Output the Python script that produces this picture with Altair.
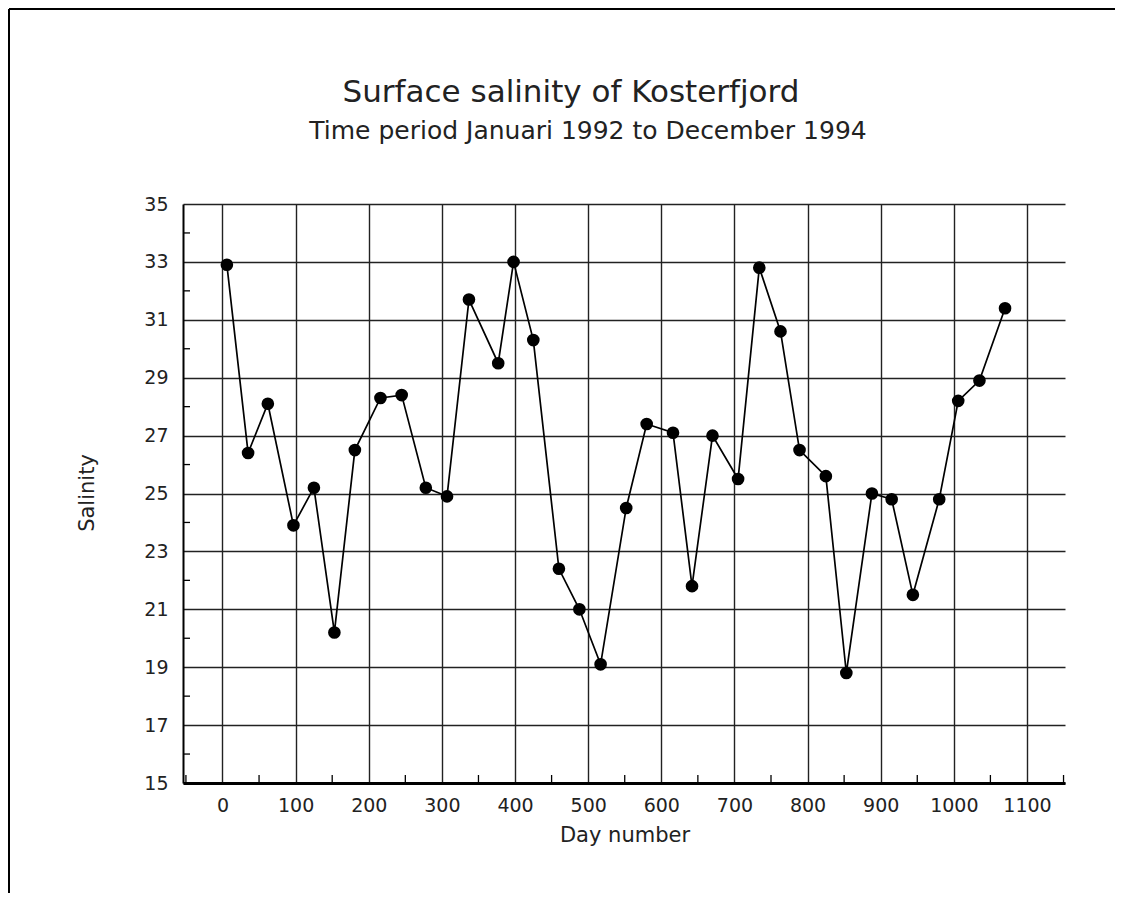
import altair as alt
import pandas as pd

# Data
days = [6, 35, 62, 97, 125, 153, 181, 216, 245, 278, 307, 337, 377, 398, 425,
        460, 488, 517, 552, 580, 616, 642, 670, 705, 734, 763, 789, 825, 853,
        888, 915, 944, 980, 1006, 1035, 1070]
salinity = [32.9, 26.4, 28.1, 23.9, 25.2, 20.2, 26.5, 28.3, 28.4, 25.2, 24.9,
            31.7, 29.5, 33.0, 30.3, 22.4, 21.0, 19.1, 24.5, 27.4, 27.1, 21.8,
            27.0, 25.5, 32.8, 30.6, 26.5, 25.6, 18.8, 25.0, 24.8, 21.5, 24.8,
            28.2, 28.9, 31.4]
x_major = [0, 100, 200, 300, 400, 500, 600, 700, 800, 900, 1000, 1100]
x_minor = [-50, 50, 150, 250, 350, 450, 550, 650, 750, 850, 950, 1050, 1150]
y_major = [15, 17, 19, 21, 23, 25, 27, 29, 31, 33, 35]
y_minor = [16, 18, 20, 22, 24, 26, 28, 30, 32, 34]

title = "Surface salinity of Kosterfjord"
subtitle = "Time period Januari 1992 to December 1994"
x_title = "Day number"
y_title = "Salinity"

FONT = "DejaVu Sans"
INK = "#000000"
TXT = "#222222"
GRID = "#222222"

W, H = 882, 579
xs = alt.Scale(domain=[-54, 1152], nice=False, zero=False)
ys = alt.Scale(domain=[15, 35], nice=False, zero=False)

df = pd.DataFrame({"day": days, "sal": salinity})

x_enc = alt.X("day:Q", scale=xs,
              axis=alt.Axis(values=x_major, grid=True, gridColor=GRID, gridWidth=1.4,
                            gridOpacity=1, ticks=False, domain=True, domainColor=INK,
                            domainWidth=3, labelFont=FONT, labelFontSize=19,
                            labelColor=TXT, labelPadding=13, title=None,
                            labelFlush=False, format="d"))
y_enc = alt.Y("sal:Q", scale=ys,
              axis=alt.Axis(values=y_major, grid=True, gridColor=GRID, gridWidth=1.4,
                            gridOpacity=1, ticks=False, domain=True, domainColor=INK,
                            domainWidth=2, labelFont=FONT, labelFontSize=19,
                            labelColor=TXT, labelPadding=15, title=None,
                            labelFlush=False, format="d"))

base = alt.Chart(df)
line = base.mark_line(color=INK, strokeWidth=1.7).encode(x=x_enc, y=y_enc)
pts = base.mark_point(filled=True, color=INK, size=160, opacity=1, shape="circle").encode(
    x=alt.X("day:Q", scale=xs), y=alt.Y("sal:Q", scale=ys))

ymin = alt.Chart(pd.DataFrame({"v": y_minor})).mark_rule(color=INK, strokeWidth=1.3).encode(
    y=alt.Y("v:Q", scale=ys), x=alt.value(0), x2=alt.value(7))
xmin = alt.Chart(pd.DataFrame({"v": x_minor})).mark_rule(color=INK, strokeWidth=1.3).encode(
    x=alt.X("v:Q", scale=xs), y=alt.value(H), y2=alt.value(H - 8))

def label(txt, x, y, size, angle=0):
    return alt.Chart(pd.DataFrame({"t": [txt]})).mark_text(
        font=FONT, fontSize=size, color=TXT, align="center", baseline="middle",
        angle=angle).encode(text="t:N", x=alt.value(x), y=alt.value(y))

t1 = label(title, 388, -111, 31)
t2 = label(subtitle, 405, -73, 25)
tx = label(x_title, 442, 632, 21)
ty = label(y_title, -95, 289, 21, angle=270)

# image frame (top and left border)
frame_top = alt.Chart(pd.DataFrame({"a": [0]})).mark_rule(color=INK, strokeWidth=2).encode(
    x=alt.value(-174), x2=alt.value(W + 52), y=alt.value(-195))
frame_left = alt.Chart(pd.DataFrame({"a": [0]})).mark_rule(color=INK, strokeWidth=2).encode(
    x=alt.value(-174), y=alt.value(-195), y2=alt.value(H + 115))

chart = alt.layer(line, pts, ymin, xmin, t1, t2, tx, ty, frame_top, frame_left).properties(
    width=W, height=H, autosize=alt.AutoSizeParams(type="none"),
    padding={"left": 175, "top": 196, "right": 50, "bottom": 110},
    background="white"
).configure_view(stroke=None)

chart.save("out.html", embed_options={"renderer": "svg", "actions": False})
